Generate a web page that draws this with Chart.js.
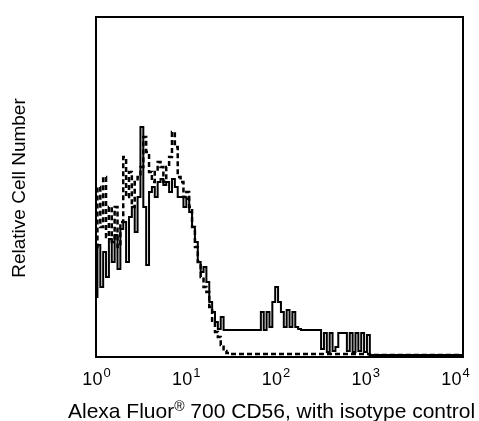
<!DOCTYPE html>
<html>
<head>
<meta charset="utf-8">
<script src="https://cdn.jsdelivr.net/npm/chart.js@4"></script>
<style>
  body { margin: 0; background: #fff; }
  canvas { display: block; }
</style>
</head>
<body>
<canvas id="histChart" width="479" height="421"></canvas>
<script>
// channels: 32 per decade, from 10^0 to 10^4
const binsPerDecade = 32;
const decadeTicks = [0, 1, 2, 3, 4];

// CD56 stained (solid line), relative counts per channel
const cd56Counts = [
  60, 112, 70, 105, 80, 118, 95, 122, 88, 128,
  135, 95, 140, 150, 125, 160, 230, 150, 92, 165,
  170, 160, 175, 178, 172, 175, 165, 178, 170, 160,
  160, 150, 158, 145, 130, 115, 95, 85, 90, 75,
  55, 45, 35, 28, 40, 27, 27, 27, 27, 27,
  27, 27, 27, 27, 27, 27, 27, 27, 45, 27,
  45, 30, 55, 70, 55, 45, 30, 47, 30, 45,
  30, 28, 27, 27, 27, 27, 27, 27, 27, 8,
  24, 5, 24, 6, 10, 24, 24, 24, 6, 24,
  5, 24, 6, 24, 5, 22, 2, 2, 2, 2,
  2, 2, 2, 2, 2, 2, 2, 2, 2, 2,
  2, 2, 2, 2, 2, 2, 2, 2, 2, 2,
  2, 2, 2, 2, 2, 2, 2, 2, 2
];

// isotype control (dashed line)
const isotypeCounts = [
  110, 170, 130, 180, 120, 150, 115, 150, 110, 135,
  200, 160, 185, 150, 175, 180, 190, 220, 205, 185,
  175, 185, 195, 190, 175, 190, 200, 225, 210, 180,
  175, 160, 165, 150, 130, 110, 95, 80, 70, 65,
  50, 35, 25, 20, 12, 6, 4, 3, 3, 3,
  3, 3, 3, 3, 3, 3, 3, 3, 3, 3,
  3, 3, 3, 3, 3, 3, 3, 3, 3, 3,
  3, 3, 3, 3, 3, 3, 3, 3, 3, 3,
  3, 3, 3, 3, 3, 3, 3, 3, 3, 3,
  3, 3, 3, 3, 3, 3, 2, 2, 2, 2,
  2, 2, 2, 2, 2, 2, 2, 2, 2, 2,
  2, 2, 2, 2, 2, 2, 2, 2, 2, 2,
  2, 2, 2, 2, 2, 2, 2, 2, 2
];

const toPoints = counts => counts.map((v, i) => ({ x: Math.pow(10, i / binsPerDecade), y: v }));

const FONT = '"Liberation Sans", Arial, sans-serif';

const frameAndLabels = {
  id: 'frameAndLabels',
  afterDraw(chart) {
    const { ctx, chartArea: a, scales } = chart;
    ctx.save();
    ctx.strokeStyle = '#000';
    ctx.lineWidth = 2;
    ctx.strokeRect(a.left, a.top, a.right - a.left, a.bottom - a.top);

    ctx.fillStyle = '#000';
    ctx.textBaseline = 'alphabetic';
    ctx.textAlign = 'left';
    decadeTicks.forEach(p => {
      const px = scales.x.getPixelForValue(Math.pow(10, p)) - p * 2;
      ctx.font = '18px ' + FONT;
      const wBase = ctx.measureText('10').width;
      ctx.font = '13px ' + FONT;
      const wExp = ctx.measureText(String(p)).width;
      const x0 = px - (wBase + wExp) / 2;
      ctx.font = '18px ' + FONT;
      ctx.fillText('10', x0, 385);
      ctx.font = '13px ' + FONT;
      ctx.fillText(String(p), x0 + wBase + 1, 377);
    });

    // x axis title with raised registered mark
    const parts = [['Alexa Fluor', 21, 0], ['®', 14, -7], [' 700 CD56, with isotype control', 21, 0]];
    let x = 68;
    parts.forEach(([t, s, dy]) => {
      ctx.font = s + 'px ' + FONT;
      ctx.fillText(t, x, 418 + dy);
      x += ctx.measureText(t).width;
    });

    // y axis title
    ctx.translate(25, 188);
    ctx.rotate(-Math.PI / 2);
    ctx.textAlign = 'center';
    ctx.font = '19px ' + FONT;
    ctx.fillText('Relative Cell Number', 0, 0);
    ctx.restore();
  }
};

new Chart(document.getElementById('histChart'), {
  type: 'line',
  data: {
    datasets: [
      {
        label: 'CD56',
        data: toPoints(cd56Counts),
        borderColor: '#000',
        borderWidth: 2,
        stepped: 'middle',
        pointRadius: 0,
        fill: false
      },
      {
        label: 'Isotype control',
        data: toPoints(isotypeCounts),
        borderColor: '#000',
        borderWidth: 2.5,
        borderDash: [5, 3],
        stepped: 'middle',
        pointRadius: 0,
        fill: false
      }
    ]
  },
  options: {
    responsive: false,
    animation: false,
    layout: { padding: { left: 96, right: 16, top: 17, bottom: 64 } },
    plugins: { legend: { display: false }, tooltip: { enabled: false } },
    scales: {
      x: { type: 'logarithmic', min: 1, max: 10000, display: false },
      y: { type: 'linear', min: 0, max: 340, display: false }
    }
  },
  plugins: [frameAndLabels]
});
</script>
</body>
</html>
